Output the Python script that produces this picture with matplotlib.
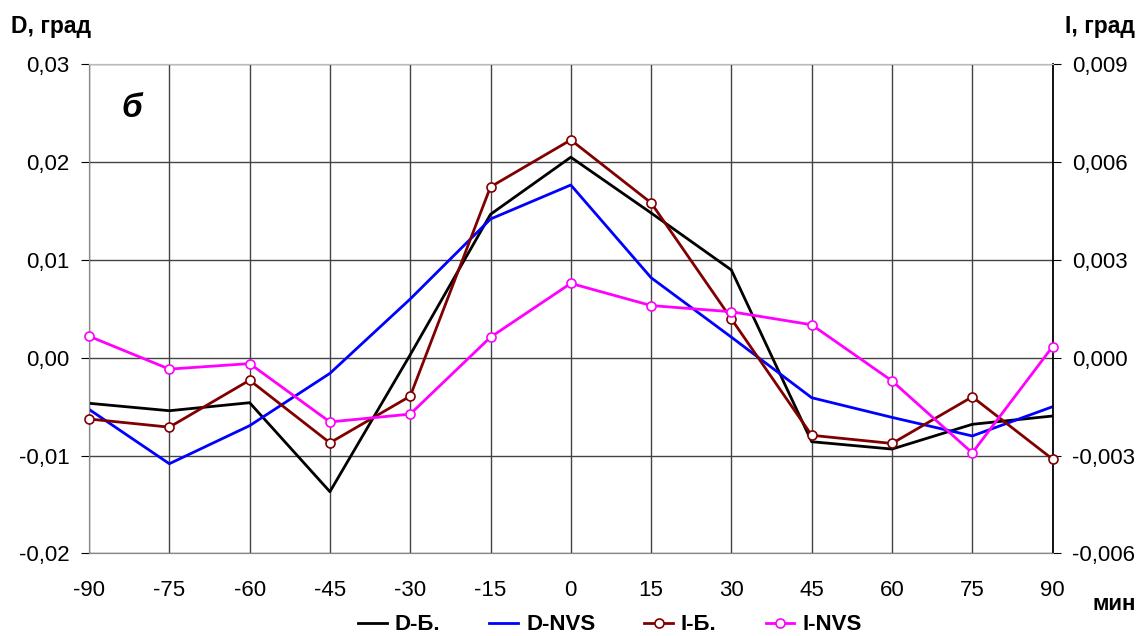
import matplotlib
matplotlib.use("Agg")
import matplotlib.pyplot as plt
from matplotlib.ticker import FixedLocator, FixedFormatter

plt.rcParams['font.family'] = ['Liberation Sans', 'DejaVu Sans']

minutes = [-90, -75, -60, -45, -30, -15, 0, 15, 30, 45, 60, 75, 90]
d_b = [-0.00466, -0.00542, -0.0046, -0.0137, 0.0003, 0.01466, 0.0205, 0.0148, 0.00897,
       -0.00859, -0.00934, -0.00681, -0.00596]
d_nvs = [-0.00528, -0.01084, -0.00695, -0.0016, 0.0060, 0.01418, 0.01766, 0.00818, 0.0021,
         -0.00409, -0.0061, -0.0080, -0.00501]
i_b = [-0.00188, -0.00213, -0.00069, -0.00261, -0.00118, 0.00524, 0.00668, 0.00475, 0.00119,
       -0.00238, -0.00263, -0.0012, -0.00311]
i_nvs = [0.00066, -0.00035, -0.00018, -0.00197, -0.00173, 0.00063, 0.00228, 0.0016, 0.00141,
         0.00101, -0.00071, -0.00292, 0.00034]

left_ticks = [-0.02, -0.01, 0.0, 0.01, 0.02, 0.03]
left_labels = ['-0,02', '-0,01', '0,00', '0,01', '0,02', '0,03']
right_ticks = [-0.006, -0.003, 0.0, 0.003, 0.006, 0.009]
right_labels = ['-0,006', '-0,003', '0,000', '0,003', '0,006', '0,009']

fig = plt.figure(figsize=(11.4, 6.36), dpi=100)
ax = fig.add_axes([0.0781, 0.13, 0.8452, 0.7689])
ax2 = ax.twinx()

grid_c = '#444444'
ax.set_xlim(-90, 90)
ax.set_ylim(-0.02, 0.03)
ax2.set_ylim(-0.006, 0.009)
ax.set_xticks(minutes)
ax.set_xticklabels([str(m) for m in minutes], fontsize=16)
ax.yaxis.set_major_locator(FixedLocator(left_ticks))
ax.yaxis.set_major_formatter(FixedFormatter(left_labels))
ax2.yaxis.set_major_locator(FixedLocator(right_ticks))
ax2.yaxis.set_major_formatter(FixedFormatter(right_labels))
ax.tick_params(axis='y', labelsize=16, direction='out', length=6, color='black', pad=8)
ax2.tick_params(axis='y', labelsize=16, direction='out', length=6, color='black', pad=8)
ax.tick_params(axis='x', length=0, pad=19)

ax.grid(True, color=grid_c, linewidth=1.0)
ax.set_axisbelow(True)
for s in ['bottom', 'left']:
    ax.spines[s].set_color('#888888')
    ax2.spines[s].set_color('#888888')
ax.spines['top'].set_color('#bbbbbb')
ax2.spines['top'].set_color('#bbbbbb')
ax.spines['right'].set_visible(False)
ax2.spines['right'].set_color('black')
ax2.spines['right'].set_linewidth(1.3)

l1, = ax.plot(minutes, d_b, color='black', lw=2.0, label='D-Б.', zorder=3)
l2, = ax.plot(minutes, d_nvs, color='#0000ff', lw=2.0, label='D-NVS', zorder=3)
l3, = ax2.plot(minutes, i_b, color='#800000', lw=2.0, marker='o', markersize=6.5,
               markerfacecolor='white', markeredgecolor='#800000', markeredgewidth=1.2,
               label='I-Б.', zorder=3, clip_on=False)
l4, = ax2.plot(minutes, i_nvs, color='#ff00ff', lw=2.0, marker='o', markersize=6.5,
               markerfacecolor='white', markeredgecolor='#ff00ff', markeredgewidth=1.2,
               label='I-NVS', zorder=3, clip_on=False)

ax.text(-84, 0.0255, 'б', fontsize=24, fontweight='bold', fontstyle='italic',
        ha='left', va='center')

fig.text(11 / 1140, 1 - 27 / 636, 'D, град', fontsize=16.5, fontweight='bold',
         ha='left', va='center')
fig.text(1135 / 1140, 1 - 27 / 636, 'I, град', fontsize=16.5, fontweight='bold',
         ha='right', va='center')
fig.text(1136 / 1140, 1 - 604 / 636, 'мин', fontsize=16, fontweight='bold',
         ha='right', va='center')

leg = fig.legend(handles=[l1, l2, l3, l4], loc='center', bbox_to_anchor=(0.535, 1 - 625 / 636),
                 ncol=4, frameon=False, handlelength=1.3, handletextpad=0.35,
                 columnspacing=2.2, borderpad=0, prop={'weight': 'bold', 'size': 16})

fig.savefig('out.png', dpi=100)
